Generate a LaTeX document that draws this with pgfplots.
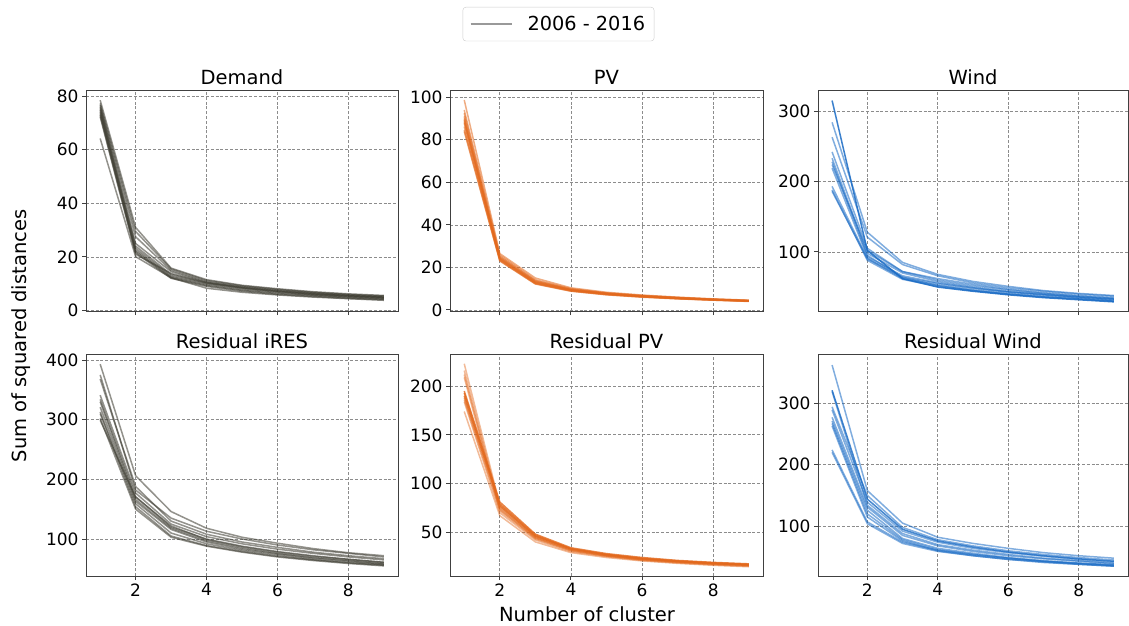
\documentclass[border=0pt]{standalone}
\usepackage{fontspec}
\setmainfont{DejaVu Sans}
\usepackage{pgfplots}
\usepackage{pgfplotstable}
\pgfplotsset{compat=1.18}

\definecolor{demandc}{RGB}{58,57,46}
\definecolor{pvc}{RGB}{226,104,28}
\definecolor{windc}{RGB}{24,106,196}

% Sum of squared distances per number of clusters (k), one column per year 2006-2016
\pgfplotstableread{
k  y06  y07  y08  y09  y10  y11  y12  y13  y14  y15  y16
1  78.5 77.3 76.6 76.0 75.4 74.8 74.2 73.5 72.9 72.3 64.2
2  31.0 29.5 27.5 25.0 24.0 23.2 22.5 22.0 21.5 21.0 20.1
3  15.8 15.5 15.0 14.5 13.5 13.0 12.6 12.3 12.0 13.8 12.2
4  11.5 11.2 10.8 10.5 10.2 10.0 9.6  9.3  9.0  10.4 8.3
5  9.4  9.2  8.9  8.7  8.4  8.2  7.8  7.5  7.2  8.5  6.8
6  8.1  7.9  7.6  7.4  7.1  6.9  6.6  6.3  6.0  7.2  5.8
7  7.0  6.8  6.6  6.4  6.1  5.9  5.7  5.5  5.2  6.2  5.0
8  6.2  6.0  5.8  5.6  5.4  5.2  5.0  4.8  4.5  5.5  4.4
9  5.6  5.4  5.2  5.0  4.8  4.6  4.4  4.2  4.0  4.9  3.8
}\demandtab

\pgfplotstableread{
k  y06  y07  y08  y09  y10  y11  y12  y13  y14  y15  y16
1  98.7 94.0 92.5 91.0 90.0 89.3 88.6 87.8 86.2 84.6 83.9
2  26.5 25.8 25.2 24.8 24.5 24.2 24.0 23.8 23.5 23.2 23.0
3  15.0 14.2 13.8 13.5 13.3 13.1 12.9 12.7 12.5 12.3 12.2
4  10.4 10.0 9.8  9.6  9.5  9.4  9.3  9.2  9.0  8.9  8.8
5  8.3  8.0  7.9  7.8  7.7  7.6  7.5  7.4  7.3  7.2  7.1
6  7.0  6.8  6.7  6.6  6.5  6.4  6.3  6.3  6.2  6.1  6.0
7  6.0  5.9  5.8  5.7  5.6  5.5  5.5  5.4  5.3  5.3  5.2
8  5.2  5.1  5.0  5.0  4.9  4.8  4.8  4.7  4.7  4.6  4.6
9  4.6  4.5  4.4  4.4  4.3  4.3  4.2  4.2  4.1  4.1  4.0
}\pvtab

\pgfplotstableread{
k  y06 y07 y08 y09 y10 y11 y12 y13 y14 y15 y16
1  315 284 263 242 233 228 224 219 193 188 186
2  102 128 121 105 98  95  102 93  91  88  90
3  62  85  82  72  70  64  72  66  62  61  64
4  50  68  66  60  58  52  62  56  53  51  55
5  44  58  56  52  50  45  54  49  46  45  48
6  39  51  49  46  44  40  47  43  41  40  43
7  35  45  44  41  40  36  42  39  37  36  39
8  32  41  40  37  36  33  38  35  34  33  36
9  29  38  37  34  33  30  35  32  31  30  33
}\windtab

\pgfplotstableread{
k  y06 y07 y08 y09 y10 y11 y12 y13 y14 y15 y16
1  393 375 368 341 334 330 321 313 310 302 299
2  206 182 188 177 171 166 163 159 154 150 170
3  146 135 130 125 120 118 116 110 105 103 122
4  118 113 108 104 100 97  95  92  89  88  99
5  103 100 95  92  88  85  83  81  79  78  87
6  93  90  86  83  79  76  75  73  71  70  78
7  84  82  78  76  72  69  68  66  65  64  71
8  77  76  72  70  66  64  63  61  60  59  66
9  72  70  67  65  61  59  58  57  56  55  61
}\irestab

\pgfplotstableread{
k  y06  y07  y08  y09  y10  y11  y12  y13  y14  y15  y16
1  223  216  212  209  195  193  190  188  186  184  174
2  78   76   74   72   81   79   77   75   73   70   67
3  46   45   44   43   48   47   46   45   44   42   40
4  33   32   32   31   34   33   33   32   31   30   29
5  27   26.5 26   25.5 28   27   27   26   25.5 25   24
6  23   22.5 22   22   24   23   23   22   21.5 21   20.5
7  20   20   19.5 19.5 21   20.5 20   19.5 19   18.5 18
8  18   18   17.5 17.5 19   18.5 18   17.5 17   16.5 16
9  16.5 16.5 16   16   17.5 17   16.5 16   15.5 15   14.5
}\respvtab

\pgfplotstableread{
k  y06 y07 y08 y09 y10 y11 y12 y13 y14 y15 y16
1  362 321 319 294 289 277 271 267 263 224 220
2  158 144 134 150 139 131 126 120 115 107 104
3  105 95  88  98  92  85  80  78  76  74  72
4  82  76  70  78  74  68  64  62  60  61  59
5  72  66  61  68  64  59  56  54  52  54  52
6  64  58  54  60  57  52  49  48  46  48  46
7  57  52  48  54  51  47  44  43  41  43  42
8  52  47  44  49  46  43  40  39  38  40  38
9  48  43  40  45  42  39  37  36  35  37  35
}\reswindtab

\pgfplotsset{
  panel/.style={
    scale only axis,
    xmin=0.6, xmax=9.4, xtick={2,4,6,8},
    grid=major,
    major grid style={draw=black!45, dash pattern=on 3pt off 1.8pt, line width=0.7pt},
    axis line style={draw=black!75, line width=0.9pt},
    tick align=outside, xtick pos=bottom, ytick pos=left,
    major tick length=4pt,
    every tick/.style={draw=black!75, line width=0.9pt},
    tick label style={font=\fontsize{17}{20}\selectfont},
    /pgf/number format/assume math mode=true,
    scaled ticks=false,
    every axis title/.style={at={(0.5,1)}, anchor=base, yshift=5.7pt,
      font=\fontsize{19.5}{23}\selectfont},
  },
  series/.style={draw=#1, draw opacity=0.55, line width=1.5pt, line join=round, mark=none},
}

\begin{document}
\begin{tikzpicture}
\path[use as bounding box] (0pt,0pt) rectangle (1129pt,-626pt);

% ---------- top row ----------
\begin{axis}[panel, at={(86pt,-311pt)}, anchor=south west,
  width=312pt, height=221pt, title={Demand},
  ymin=-0.2, ymax=82.3, ytick={0,20,40,60,80}, xticklabels={},
  legend style={at={(1.5144,1.3756)}, anchor=north,
    font=\fontsize{19.3}{23}\selectfont, draw=black!20, rounded corners=3pt,
    inner xsep=7pt, inner ysep=7pt},
  legend image code/.code={\draw[#1] (0pt,0pt) -- (41pt,0pt);
    \path[draw=none] (55pt,0pt);},
  legend cell align=left]
\addlegendimage{black!40, line width=1.5pt}
\addlegendentry{2006 - 2016}
\pgfplotsinvokeforeach{y06,y07,y08,y09,y10,y11,y12,y13,y14,y15,y16}{
  \addplot[series=demandc, forget plot] table[x=k, y=#1] {\demandtab};
}
\end{axis}

\begin{axis}[panel, at={(450pt,-311pt)}, anchor=south west,
  width=313pt, height=221pt, title={PV},
  ymin=-0.5, ymax=103.4, ytick={0,20,40,60,80,100}, xticklabels={}]
\pgfplotsinvokeforeach{y06,y07,y08,y09,y10,y11,y12,y13,y14,y15,y16}{
  \addplot[series=pvc] table[x=k, y=#1] {\pvtab};
}
\end{axis}

\begin{axis}[panel, at={(818pt,-311pt)}, anchor=south west,
  width=310pt, height=221pt, title={Wind},
  ymin=16, ymax=330, ytick={100,200,300}, xticklabels={}]
\pgfplotsinvokeforeach{y07,y08,y09,y10,y11,y12,y13,y14,y15,y16}{
  \addplot[series=windc] table[x=k, y=#1] {\windtab};
}
\addplot[series=windc, draw opacity=0.85] table[x=k, y=y06] {\windtab};
\end{axis}

% ---------- bottom row ----------
\begin{axis}[panel, at={(86pt,-576pt)}, anchor=south west,
  width=312pt, height=222pt, title={Residual iRES},
  ymin=38, ymax=410, ytick={100,200,300,400}]
\pgfplotsinvokeforeach{y06,y07,y08,y09,y10,y11,y12,y13,y14,y15,y16}{
  \addplot[series=demandc] table[x=k, y=#1] {\irestab};
}
\end{axis}

\begin{axis}[panel, at={(450pt,-576pt)}, anchor=south west,
  width=313pt, height=222pt, title={Residual PV},
  ymin=5, ymax=233, ytick={50,100,150,200}]
\pgfplotsinvokeforeach{y06,y07,y08,y09,y13,y14,y15,y16}{
  \addplot[series=pvc, draw opacity=0.45] table[x=k, y=#1] {\respvtab};
}
\pgfplotsinvokeforeach{y10,y11,y12}{
  \addplot[series=pvc, draw opacity=0.8] table[x=k, y=#1] {\respvtab};
}
\end{axis}

\begin{axis}[panel, at={(818pt,-576pt)}, anchor=south west,
  width=310pt, height=222pt, title={Residual Wind},
  ymin=19, ymax=380, ytick={100,200,300}]
\pgfplotsinvokeforeach{y06,y08,y09,y10,y11,y12,y13,y14,y15,y16}{
  \addplot[series=windc] table[x=k, y=#1] {\reswindtab};
}
\addplot[series=windc, draw opacity=0.8] table[x=k, y=y07] {\reswindtab};
\end{axis}

% shared axis labels
\node[font=\fontsize{19.5}{23}\selectfont, anchor=base] at (587pt,-621pt) {Number of cluster};
\node[font=\fontsize{19.5}{23}\selectfont, anchor=base, rotate=90] at (26.5pt,-336pt) {Sum of squared distances};
\end{tikzpicture}
\end{document}
